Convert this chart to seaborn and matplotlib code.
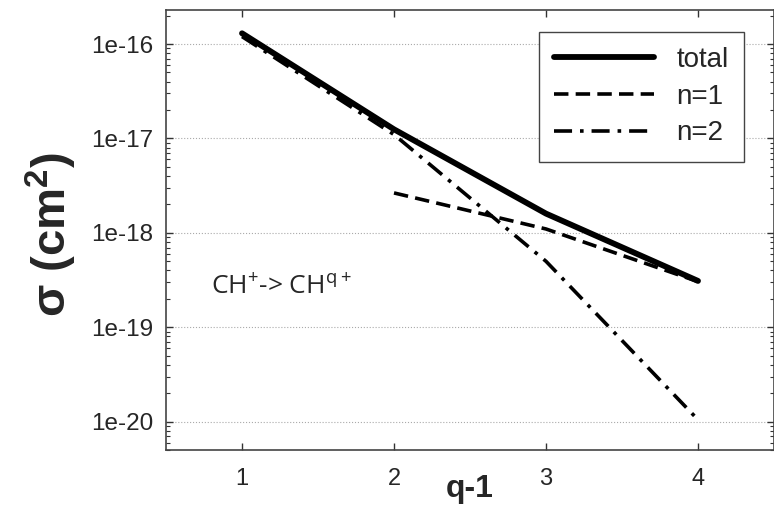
import numpy as np
import pandas as pd
import matplotlib
matplotlib.use('Agg')
import matplotlib.pyplot as plt
from matplotlib.ticker import FuncFormatter, LogLocator, FixedLocator
import seaborn as sns

# values
q_total = [1, 2, 3, 4]
sigma_total = [1.3e-16, 1.25e-17, 1.6e-18, 3.1e-19]
q_n1 = [2, 3, 4]
sigma_n1 = [2.65e-18, 1.1e-18, 3.05e-19]
q_n2 = [1, 2, 3, 4]
sigma_n2 = [1.2e-16, 1.1e-17, 5.0e-19, 1.05e-20]
x_ticks = [1, 2, 3, 4]
y_ticks = [1e-20, 1e-19, 1e-18, 1e-17, 1e-16]

sns.set_style("ticks")
plt.rcParams['font.family'] = ['Liberation Sans', 'DejaVu Sans']
plt.rcParams['mathtext.default'] = 'regular'

fig = plt.figure(figsize=(7.74, 5.21), dpi=100)
ax = fig.add_axes([0.2145, 0.136, 0.7855, 0.845])

sns.lineplot(x=q_total, y=sigma_total, ax=ax, color='black', lw=4.2,
             linestyle='-', label='total')
sns.lineplot(x=q_n1, y=sigma_n1, ax=ax, color='black', lw=2.6,
             linestyle=(0, (4, 2)), label='n=1')
sns.lineplot(x=q_n2, y=sigma_n2, ax=ax, color='black', lw=2.6,
             linestyle=(0, (5, 2.2, 1, 2.2)), label='n=2')

ax.set_yscale('log')
ax.set_xlim(0.5, 4.5)
ax.set_ylim(5e-21, 2.3e-16)
ax.xaxis.set_major_locator(FixedLocator(x_ticks))
ax.yaxis.set_major_locator(FixedLocator(y_ticks))
ax.yaxis.set_minor_locator(LogLocator(base=10, subs=np.arange(2, 10)))
ax.yaxis.set_major_formatter(FuncFormatter(lambda v, p: "1e%d" % int(round(np.log10(v)))))
ax.yaxis.set_minor_formatter(FuncFormatter(lambda v, p: ""))

ax.tick_params(axis='both', which='major', direction='in', length=5, width=1,
               top=True, right=True, color='#333333')
ax.tick_params(axis='x', which='major', labelsize=17, pad=13)
ax.tick_params(axis='y', which='major', labelsize=17.5, pad=9)
ax.tick_params(axis='y', which='minor', direction='in', length=3, width=0.8,
               right=True, color='#333333')

for s in ax.spines.values():
    s.set_color('#444444')
    s.set_linewidth(1.2)

ax.yaxis.grid(True, which='major', linestyle=':', color='#aaaaaa', lw=0.8)
ax.xaxis.grid(False)

ax.set_xlabel('q-1', fontsize=23, fontweight='bold')
ax.xaxis.set_label_coords(0.5, -0.055)
ax.set_ylabel('σ (cm$^2$)', fontsize=34, fontweight='bold')
ax.yaxis.set_label_coords(-0.143, 0.49)

ax.text(0.795, 2.25e-19, 'CH$^{+}$-> CH$^{q+}$', fontsize=19,
        family=['Open Sans', 'DejaVu Sans'], va='baseline', ha='left')

leg = ax.legend(loc='upper right', bbox_to_anchor=(0.9507, 0.95), fontsize=20,
                handlelength=3.6, handletextpad=0.8, labelspacing=0.38,
                borderpad=0.55, borderaxespad=0, frameon=True, fancybox=False,
                framealpha=1, edgecolor='#444444')
leg.get_frame().set_linewidth(1.0)

fig.savefig('out.png', dpi=100, facecolor='white')
